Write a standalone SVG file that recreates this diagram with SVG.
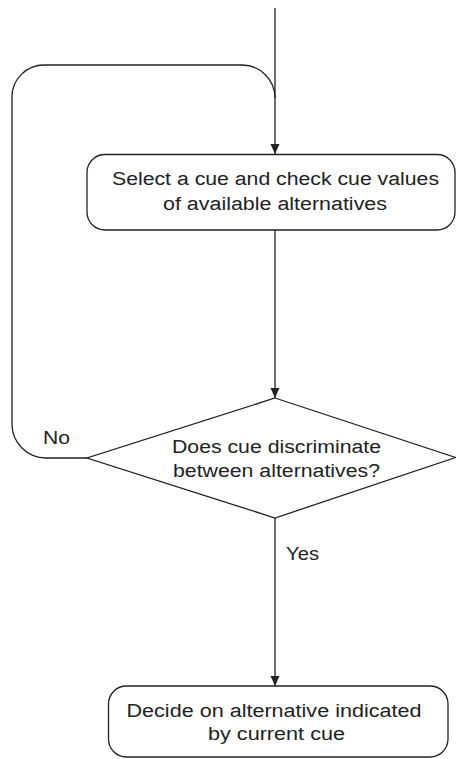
<svg xmlns="http://www.w3.org/2000/svg" width="456" height="759" viewBox="0 0 456 759">
<style>
.s{fill:none;stroke:#222;stroke-width:1.3}
.n{fill:#fff;stroke:#222;stroke-width:1.3}
text{font-family:"Liberation Sans",Arial,sans-serif;font-size:18px;fill:#222;text-anchor:middle}
</style>
<defs>
<marker id="ah" markerWidth="10" markerHeight="12" refX="10" refY="6" orient="auto" markerUnits="userSpaceOnUse">
<path d="M0,1.5 L10,6 L0,10.5 Z" fill="#222"/>
</marker>
</defs>
<g id="connectors">
<path class="s" d="M275,8 V154" marker-end="url(#ah)"/>
<path class="s" d="M87,458 H46 A34,34 0 0 1 12,424 V97 A32,32 0 0 1 44,65 H242 A33,33 0 0 1 275,98"/>
<path class="s" d="M275,230 V398" marker-end="url(#ah)"/>
<path class="s" d="M275,518 V686" marker-end="url(#ah)"/>
</g>
<g id="select">
<rect class="n" x="87" y="154.5" width="368" height="75.5" rx="18" ry="18"/>
<text x="275.5" y="185" textLength="327" lengthAdjust="spacingAndGlyphs">Select a cue and check cue values</text>
<text x="275" y="210" textLength="224" lengthAdjust="spacingAndGlyphs">of available alternatives</text>
</g>
<g id="decision">
<polygon class="n" points="275,398 455.5,457.5 275,518 87,458"/>
<text x="276.5" y="453" textLength="209" lengthAdjust="spacingAndGlyphs">Does cue discriminate</text>
<text x="276.5" y="477" textLength="207" lengthAdjust="spacingAndGlyphs">between alternatives?</text>
</g>
<g id="labels">
<text x="56.5" y="444" textLength="27" lengthAdjust="spacingAndGlyphs">No</text>
<text x="302.5" y="560" textLength="33" lengthAdjust="spacingAndGlyphs">Yes</text>
</g>
<g id="decide">
<rect class="n" x="108.5" y="686" width="339.5" height="71" rx="18" ry="18"/>
<text x="274" y="717" textLength="295" lengthAdjust="spacingAndGlyphs">Decide on alternative indicated</text>
<text x="276.5" y="740" textLength="137" lengthAdjust="spacingAndGlyphs">by current cue</text>
</g>
</svg>
